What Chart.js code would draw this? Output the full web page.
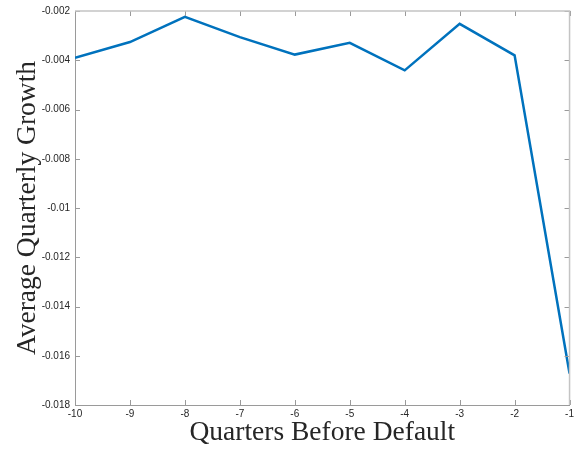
<!DOCTYPE html>
<html lang="en">
<head>
    <meta charset="UTF-8">
    <title>Average Quarterly Growth</title>
    <script src="https://cdn.jsdelivr.net/npm/chart.js"></script>
    <style>
        html, body { margin: 0; padding: 0; background: #fff; }
        #wrap { width: 577px; height: 450px; }
    </style>
</head>
<body>
    <div id="wrap"><canvas id="grafico" width="577" height="450"></canvas></div>

    <script>
        // === DADOS ===
        const quarters = [-10, -9, -8, -7, -6, -5, -4, -3, -2, -1];
        const growth = [-0.00390, -0.00326, -0.00224, -0.00306, -0.00377, -0.00329, -0.00441, -0.00252, -0.00380, -0.01672];
        const yTicks = [-0.018, -0.016, -0.014, -0.012, -0.01, -0.008, -0.006, -0.004, -0.002];

        const axisColor = '#9a9a9a';
        const tickFont = { family: 'Liberation Sans, Arial, sans-serif', size: 10 };
        const titleFont = { family: 'Liberation Serif, Times New Roman, serif', size: 27.5, lineHeight: 1.2 };

        // box + ticks pointing inward (matlab style)
        const boxTicks = {
            id: 'boxTicks',
            afterDatasetsDraw(chart) {
                const { ctx, chartArea: a, scales } = chart;
                const len = 5;
                ctx.save();
                ctx.strokeStyle = axisColor;
                ctx.lineWidth = 1;
                ctx.beginPath();
                scales.x.ticks.forEach(t => {
                    const px = Math.round(scales.x.getPixelForValue(t.value)) + 0.5;
                    ctx.moveTo(px, a.bottom); ctx.lineTo(px, a.bottom - len);
                    ctx.moveTo(px, a.top); ctx.lineTo(px, a.top + len);
                });
                scales.y.ticks.forEach(t => {
                    const py = Math.round(scales.y.getPixelForValue(t.value)) + 0.5;
                    ctx.moveTo(a.left, py); ctx.lineTo(a.left + len, py);
                    ctx.moveTo(a.right, py); ctx.lineTo(a.right - len, py);
                });
                ctx.stroke();
                ctx.strokeStyle = '#c4c4c4';
                ctx.lineWidth = 1.5;
                ctx.beginPath();
                ctx.moveTo(a.left, a.top); ctx.lineTo(a.right, a.top); ctx.lineTo(a.right, a.bottom);
                ctx.stroke();
                ctx.restore();
            }
        };

        const ctx = document.getElementById('grafico').getContext('2d');
        new Chart(ctx, {
            type: 'line',
            data: {
                datasets: [{
                    data: quarters.map((q, i) => ({ x: q, y: growth[i] })),
                    borderColor: '#0072BD',
                    borderWidth: 2.5,
                    pointRadius: 0,
                    tension: 0,
                    fill: false
                }]
            },
            options: {
                responsive: false,
                animation: false,
                layout: { padding: { top: 8, right: 6, left: 0, bottom: 0 } },
                plugins: { legend: { display: false }, tooltip: { enabled: false } },
                scales: {
                    x: {
                        type: 'linear',
                        min: -10,
                        max: -1,
                        afterFit: s => { s.height = 45; },
                        ticks: { stepSize: 1, color: '#262626', font: tickFont, padding: 3 },
                        grid: { display: false, drawTicks: false },
                        border: { display: true, color: axisColor },
                        title: { display: true, text: 'Quarters Before Default', color: '#262626', font: titleFont, padding: { top: 0, bottom: 0.5 } }
                    },
                    y: {
                        min: -0.018,
                        max: -0.002,
                        afterFit: s => { s.width = 75; },
                        afterBuildTicks: s => { s.ticks = yTicks.map(v => ({ value: v })); },
                        ticks: {
                            color: '#262626',
                            font: tickFont,
                            padding: 5,
                            callback: v => parseFloat(v.toFixed(3)).toString()
                        },
                        grid: { display: false, drawTicks: false },
                        border: { display: true, color: axisColor },
                        title: { display: true, text: 'Average Quarterly Growth', color: '#262626', font: titleFont, padding: { top: 11.5, bottom: 0 } }
                    }
                }
            },
            plugins: [boxTicks]
        });
    </script>
</body>
</html>
